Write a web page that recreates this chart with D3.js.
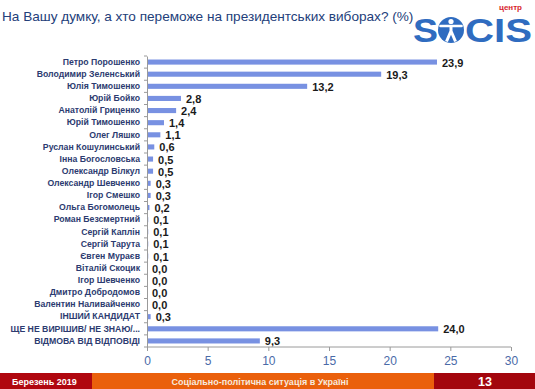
<!DOCTYPE html>
<html><head><meta charset="utf-8">
<script src="https://cdn.jsdelivr.net/npm/d3@7/dist/d3.min.js"></script>
<style>
html,body{margin:0;padding:0;background:#fff;}
svg{display:block;font-family:"Liberation Sans",Arial,sans-serif;}
</style></head>
<body>
<svg id="chart" width="535" height="389"></svg>
<script>
const categories = ["Петро Порошенко","Володимир Зеленський","Юлія Тимошенко","Юрій Бойко","Анатолій Гриценко","Юрій Тимошенко","Олег Ляшко","Руслан Кошулинський","Інна Богословська","Олександр Вілкул","Олександр Шевченко","Ігор Смешко","Ольга Богомолець","Роман Безсмертний","Сергій Каплін","Сергій Тарута","Євген Мураєв","Віталій Скоцик","Ігор Шевченко","Дмитро Добродомов","Валентин Наливайченко","ІНШИЙ КАНДИДАТ","ЩЕ НЕ ВИРІШИВ/ НЕ ЗНАЮ/...","ВІДМОВА ВІД ВІДПОВІДІ"];
const values = [23.9,19.3,13.2,2.8,2.4,1.4,1.1,0.6,0.5,0.5,0.3,0.3,0.2,0.1,0.1,0.1,0.1,0.0,0.0,0.0,0.0,0.3,24.0,9.3];
const xTicks = [0,5,10,15,20,25,30];
const title = "На Вашу думку, а хто переможе на президентських виборах? (%)";
const footerLeft = "Березень 2019";
const footerMid = "Соціально-політична ситуація в Україні";
const footerRight = "13";

const svg = d3.select("#chart");
const x = d3.scaleLinear().domain([0,30]).range([147,511]);
const y = d3.scaleBand().domain(categories).range([56,347]).paddingInner(0.58).paddingOuter(0.29);

// title
svg.append("text").attr("x",2).attr("y",21).attr("font-size",13.6).attr("fill","#23407a").text(title);

// logo
const logo = svg.append("g");
logo.append("text").attr("x",499).attr("y",9.5).attr("font-size",8).attr("font-weight","bold").attr("fill","#d7262b").text("центр");
logo.append("text").attr("x",413).attr("y",42).attr("font-size",33).attr("font-weight","bold").attr("fill","#2f6cc0")
  .attr("textLength",25).attr("lengthAdjust","spacingAndGlyphs").text("S");
logo.append("circle").attr("cx",451).attr("cy",30).attr("r",13).attr("fill","#2f6cc0");
const fig = logo.append("g").attr("fill","#fff").attr("stroke","#fff");
fig.append("circle").attr("cx",451).attr("cy",21.5).attr("r",2.6).attr("stroke","none");
fig.append("path").attr("d","M440.5,26 L461.5,26").attr("stroke-width",2.6).attr("stroke-linecap","round");
fig.append("path").attr("d","M451,25 L451,32 M451,31 L446.5,41.5 M451,31 L455.5,41.5").attr("stroke-width",3).attr("fill","none");
logo.append("text").attr("x",465).attr("y",42).attr("font-size",33).attr("font-weight","bold").attr("fill","#2f6cc0")
  .attr("textLength",67).attr("lengthAdjust","spacingAndGlyphs").text("CIS");

// bars
svg.append("g").selectAll("rect").data(values).join("rect")
  .attr("x",x(0)).attr("y",(d,i)=>y(categories[i]))
  .attr("width",d=>x(d)-x(0)).attr("height",y.bandwidth())
  .attr("fill","#7891e2");

// value labels
svg.append("g").selectAll("text").data(values).join("text")
  .attr("x",d=>x(d)+5).attr("y",(d,i)=>y(categories[i])+y.bandwidth()/2+4.5)
  .attr("font-size",11).attr("font-weight","bold").attr("fill","#1a1a1a")
  .text(d=>d.toFixed(1).replace(".",","));

// y axis
const yAxis = d3.axisLeft(y).tickSize(0).tickPadding(7);
const gy = svg.append("g").attr("transform","translate(147,0)").call(yAxis);
gy.select(".domain").attr("stroke","#9a9a9a");
gy.selectAll("text").attr("font-size",8.7).attr("font-weight","bold").attr("fill","#2c3b70").attr("font-family","Liberation Sans, Arial, sans-serif");
const bounds = categories.map(c=>y(c)-y.step()*y.paddingInner()/2).concat([347]);
gy.append("g").selectAll("line").data(bounds).join("line")
  .attr("x1",-3).attr("x2",0).attr("y1",d=>d).attr("y2",d=>d).attr("stroke","#9a9a9a");

// x axis
const xAxis = d3.axisBottom(x).tickValues(xTicks).tickSize(4).tickPadding(5).tickFormat(d3.format("d"));
const gx = svg.append("g").attr("transform","translate(0,347)").call(xAxis);
gx.select(".domain").attr("stroke","#9a9a9a").attr("d","M147,0H511");
gx.selectAll(".tick line").attr("stroke","#9a9a9a");
gx.selectAll("text").attr("font-size",12).attr("fill","#4a6aa8").attr("font-family","Liberation Sans, Arial, sans-serif");

// footer
const fy = 373, fh = 16;
svg.append("rect").attr("x",0).attr("y",fy).attr("width",92).attr("height",fh).attr("fill","#b0070f");
svg.append("rect").attr("x",92).attr("y",fy).attr("width",342).attr("height",fh).attr("fill","#ea600c");
svg.append("rect").attr("x",434).attr("y",fy).attr("width",101).attr("height",fh).attr("fill","#a3060d");
svg.append("text").attr("x",12).attr("y",fy+11.5).attr("font-size",9).attr("font-weight","bold").attr("fill","#fff").text(footerLeft);
svg.append("text").attr("x",260).attr("y",fy+11.5).attr("text-anchor","middle").attr("font-size",9).attr("font-weight","bold").attr("fill","#f6eadf").text(footerMid);
svg.append("text").attr("x",485).attr("y",fy+12.5).attr("text-anchor","middle").attr("font-size",12.5).attr("font-weight","bold").attr("fill","#fff").text(footerRight);
</script>
</body></html>
